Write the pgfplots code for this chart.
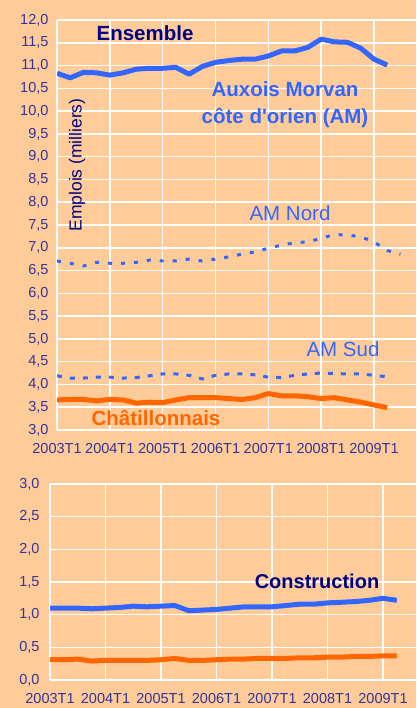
\documentclass[border=0pt]{standalone}
\usepackage{pgfplots}
\pgfplotsset{compat=1.18}
\usepackage{fontspec}
\setmainfont{Liberation Sans}
\definecolor{peach}{RGB}{255,204,153}
\definecolor{amblue}{RGB}{51,102,255}
\definecolor{chorange}{RGB}{255,102,0}
\definecolor{navytxt}{RGB}{0,0,128}
\definecolor{tickcol}{RGB}{51,51,153}
\pgfplotsset{
 mystyle/.style={
  scale only axis,
  axis x line*=bottom, axis y line*=left,
  axis line style={white, line width=2pt},
  grid=major,
  major grid style={white, line width=1.5pt},
  major tick length=0pt,
  xtick={0,4,8,12,16,20,24},
  xticklabels={2003T1,2004T1,2005T1,2006T1,2007T1,2008T1,2009T1},
  ticklabel style={text=tickcol, font=\fontsize{14.5}{16}\selectfont},
  xticklabel style={yshift=-10pt},
  /pgf/number format/assume math mode=true,
  yticklabel={\pgfmathprintnumber[fixed,fixed zerofill,precision=1,use comma]{\tick}},
  xmin=0,
  line join=round,
 }
}
\begin{document}
\begin{tikzpicture}[x=1pt,y=1pt]
\fill[peach] (0,0) rectangle (416,708);
% top panel
\begin{axis}[mystyle, at={(57pt,278pt)}, anchor=south west,
  width=359pt, height=410pt, xmax=27.18, ymin=3, ymax=12, ytick={3,3.5,...,12.1},
  yticklabel style={xshift=-5pt}]
\addplot[amblue, line width=5pt] coordinates {
(0,10.83)(1,10.73)(2,10.85)(3,10.84)(4,10.79)(5,10.84)(6,10.92)(7,10.94)(8,10.94)(9,10.96)
(10,10.81)(11,10.98)(12,11.07)(13,11.11)(14,11.14)(15,11.14)(16,11.21)(17,11.32)(18,11.32)
(19,11.40)(20,11.58)(21,11.52)(22,11.51)(23,11.38)(24,11.14)(25,11.01)};
\addplot[amblue, line width=3pt, dash pattern=on 4pt off 9pt] coordinates {
(0,6.71)(1,6.66)(2,6.60)(3,6.68)(4,6.66)(5,6.66)(6,6.68)(7,6.73)(8,6.71)(9,6.71)
(10,6.75)(11,6.71)(12,6.75)(13,6.80)(14,6.86)(15,6.91)(16,6.99)(17,7.06)(18,7.11)
(19,7.13)(20,7.21)(21,7.29)(22,7.28)(23,7.24)(24,7.13)(25,6.94)(26,6.86)};
\addplot[amblue, line width=3pt, dash pattern=on 5pt off 8pt] coordinates {
(0,4.19)(1,4.14)(2,4.14)(3,4.16)(4,4.16)(5,4.14)(6,4.15)(7,4.19)(8,4.23)(9,4.23)
(10,4.20)(11,4.12)(12,4.20)(13,4.23)(14,4.23)(15,4.21)(16,4.16)(17,4.15)(18,4.20)
(19,4.23)(20,4.25)(21,4.24)(22,4.23)(23,4.23)(24,4.20)(25,4.17)};
\addplot[chorange, line width=5pt] coordinates {
(0,3.66)(1,3.67)(2,3.67)(3,3.64)(4,3.67)(5,3.66)(6,3.59)(7,3.61)(8,3.60)(9,3.66)
(10,3.71)(11,3.71)(12,3.71)(13,3.69)(14,3.67)(15,3.71)(16,3.80)(17,3.75)(18,3.75)
(19,3.73)(20,3.69)(21,3.71)(22,3.66)(23,3.61)(24,3.55)(25,3.49)};
\end{axis}
% bottom panel
\begin{axis}[mystyle, at={(50pt,28pt)}, anchor=south west,
  width=366pt, height=196pt, xmax=26.38, ymin=0, ymax=3, ytick={0,0.5,...,3.01},
  yticklabel style={xshift=-7pt}]
\addplot[amblue, line width=5pt] coordinates {
(0,1.10)(1,1.10)(2,1.10)(3,1.09)(4,1.10)(5,1.11)(6,1.13)(7,1.12)(8,1.13)(9,1.14)
(10,1.06)(11,1.07)(12,1.08)(13,1.10)(14,1.12)(15,1.12)(16,1.12)(17,1.14)(18,1.16)
(19,1.16)(20,1.18)(21,1.19)(22,1.20)(23,1.22)(24,1.25)(25,1.22)};
\addplot[chorange, line width=5pt] coordinates {
(0,0.31)(1,0.31)(2,0.32)(3,0.29)(4,0.30)(5,0.30)(6,0.30)(7,0.30)(8,0.31)(9,0.33)
(10,0.30)(11,0.30)(12,0.31)(13,0.32)(14,0.32)(15,0.33)(16,0.33)(17,0.33)(18,0.34)
(19,0.34)(20,0.35)(21,0.35)(22,0.36)(23,0.36)(24,0.37)(25,0.37)};
\end{axis}
% annotations
\node[text=navytxt, font=\bfseries\fontsize{20.5}{24}\selectfont] at (145,675) {Ensemble};
\node[text=amblue, font=\bfseries\fontsize{20.5}{27}\selectfont, align=center] at (285,603) {Auxois Morvan\\côte d\textquotesingle orien (AM)};
\node[text=navytxt, font=\fontsize{17.5}{20}\selectfont, rotate=90] at (77,543) {Emplois (milliers)};
\node[text=amblue, font=\fontsize{20.5}{24}\selectfont] at (290,495) {AM Nord};
\node[text=amblue, font=\fontsize{20.5}{24}\selectfont] at (343,359) {AM Sud};
\node[text=chorange, font=\bfseries\fontsize{20.5}{24}\selectfont] at (156,290) {Châtillonnais};
\node[text=navytxt, font=\bfseries\fontsize{20}{24}\selectfont] at (317,127) {Construction};
\pgfresetboundingbox
\useasboundingbox (0,0) rectangle (416,708);
\end{tikzpicture}
\end{document}
